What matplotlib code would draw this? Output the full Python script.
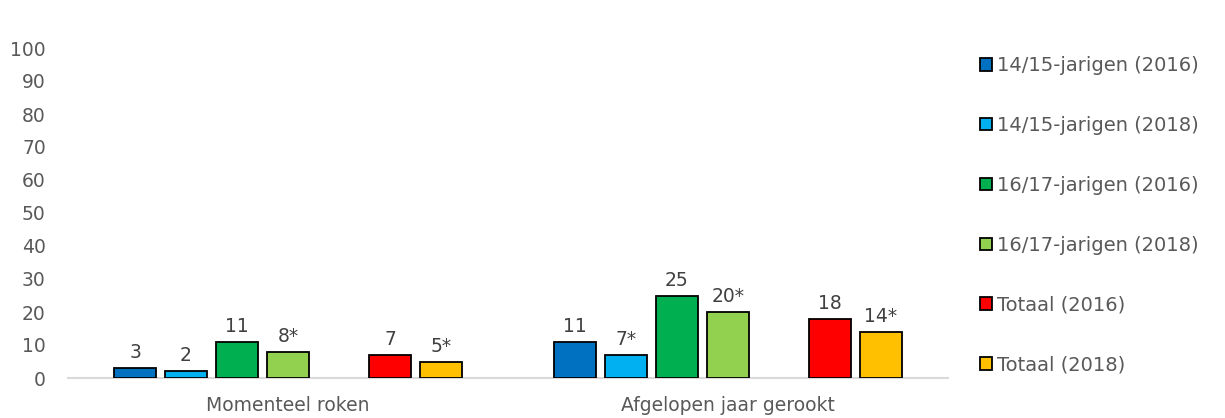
import matplotlib.pyplot as plt
import numpy as np

plt.rcParams["font.family"] = ["DejaVu Sans"]

categories = ["Momenteel roken", "Afgelopen jaar gerookt"]
series = ["14/15-jarigen (2016)", "14/15-jarigen (2018)",
          "16/17-jarigen (2016)", "16/17-jarigen (2018)",
          "Totaal (2016)", "Totaal (2018)"]
values = [
    [3, 11],
    [2, 7],
    [11, 25],
    [8, 20],
    [7, 18],
    [5, 14],
]
labels = [
    ["3", "11"],
    ["2", "7*"],
    ["11", "25"],
    ["8*", "20*"],
    ["7", "18"],
    ["5*", "14*"],
]
colors = ["#0070C0", "#00B0F0", "#00B050", "#92D050", "#FF0000", "#FFC000"]

# slot offsets: 7 slots, the 5th one is left empty
slots = [-3, -2, -1, 0, 2, 3]
pitch = 51 / 440
width = 42 / 440
text_col = "#595959"
fs = 13.5

fig = plt.figure(figsize=(12.25, 4.18), dpi=100)
ax = fig.add_axes([68 / 1225, 1 - 378 / 418, 880 / 1225, 330 / 418])

x = np.arange(len(categories))
for i, name in enumerate(series):
    pos = x + slots[i] * pitch
    bars = ax.bar(pos, values[i], width, color=colors[i], edgecolor="black",
                  linewidth=1.3, label=name, zorder=3)
    for b, lab in zip(bars, labels[i]):
        ax.text(b.get_x() + b.get_width() / 2, b.get_height() + 1.8, lab,
                ha="center", va="bottom", fontsize=fs, color="#404040")

ax.set_xlim(-0.5, 1.5)
ax.set_ylim(0, 100)
ax.set_yticks(range(0, 101, 10))
ax.set_xticks(x)
ax.set_xticklabels(categories)
ax.tick_params(axis="both", length=0, labelsize=fs, colors=text_col)
ax.tick_params(axis="x", pad=13)
ax.tick_params(axis="y", pad=16)
for s in ["top", "right", "left"]:
    ax.spines[s].set_visible(False)
ax.spines["bottom"].set_color("#D9D9D9")
ax.spines["bottom"].set_linewidth(1.5)

leg = fig.legend(loc="center left", bbox_to_anchor=(0.786, 0.485), frameon=False,
                 fontsize=14, handlelength=0.62, handleheight=0.62,
                 handletextpad=0.25, labelspacing=2.1)
for t in leg.get_texts():
    t.set_color(text_col)

plt.savefig("out.png", dpi=100)
